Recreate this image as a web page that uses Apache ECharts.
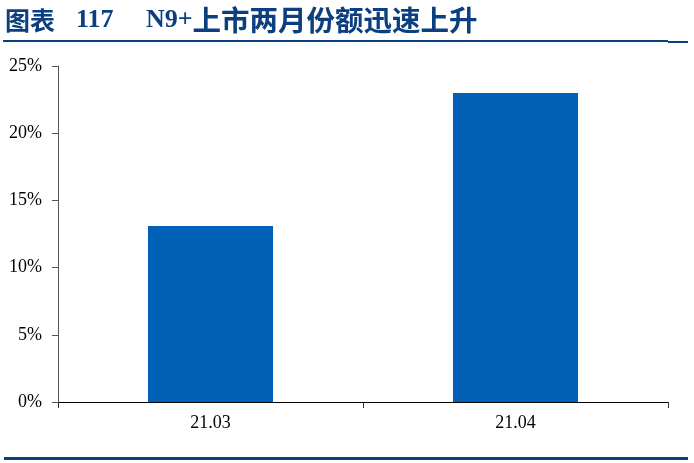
<!DOCTYPE html>
<html>
<head>
<meta charset="utf-8">
<script src="https://cdn.jsdelivr.net/npm/echarts@6/dist/echarts.min.js"></script>
<style>
    html, body { margin: 0; padding: 0; background: #fff; }
    #chart { width: 694px; height: 463px; }
</style>
</head>
<body>
<div id="chart"></div>
<script>
// 数据
const titleLabel = '图表';
const titleNo = '117';
const titleLatin = 'N9+';
const titleCjk = '上市两月份额迅速上升';
const months = ['21.03', '21.04'];
const shares = [0.131, 0.230];

const navy = '#0B3F80';
const serif = '"Liberation Serif", "Times New Roman", serif';
const cjk = '"Noto Sans CJK SC", sans-serif';

const chart = echarts.init(document.getElementById('chart'));

const option = {
    animation: false,
    backgroundColor: '#fff',
    grid: {
        left: 58,
        right: 26,
        top: 66,
        bottom: 61
    },
    graphic: [
        {
            type: 'text',
            x: 5,
            y: 20,
            style: {
                text: titleLabel,
                fill: navy,
                font: 'bold 25px ' + cjk,
                verticalAlign: 'middle'
            }
        },
        {
            type: 'text',
            x: 76,
            y: 20,
            style: {
                text: titleNo,
                fill: navy,
                font: 'bold 26px ' + serif,
                verticalAlign: 'middle'
            }
        },
        {
            type: 'text',
            x: 146,
            y: 20,
            style: {
                text: '{a|' + titleLatin + '}{b|' + titleCjk + '}',
                verticalAlign: 'middle',
                rich: {
                    a: { fill: navy, font: 'bold 26px ' + serif },
                    b: { fill: navy, font: 'bold 28.5px ' + cjk }
                }
            }
        },
        {
            type: 'rect',
            shape: { x: 3, y: 40, width: 665, height: 2 },
            style: { fill: navy }
        },
        {
            type: 'rect',
            shape: { x: 668, y: 41, width: 20, height: 2 },
            style: { fill: navy }
        },
        {
            type: 'rect',
            shape: { x: 4, y: 457, width: 684, height: 3 },
            style: { fill: navy }
        }
    ],
    xAxis: {
        type: 'category',
        data: months,
        axisLine: { lineStyle: { color: '#000', width: 1 } },
        axisTick: { show: true, length: 6, lineStyle: { color: '#333' } },
        axisLabel: {
            color: '#000',
            fontFamily: serif,
            fontSize: 18,
            margin: 12
        }
    },
    yAxis: {
        type: 'value',
        min: 0,
        max: 0.25,
        interval: 0.05,
        axisLine: { show: true, lineStyle: { color: '#555' } },
        axisTick: { show: true, length: 6, lineStyle: { color: '#555' } },
        splitLine: { show: false },
        axisLabel: {
            color: '#000',
            fontFamily: serif,
            fontSize: 18,
            margin: 16,
            formatter: function (v) {
                return Math.round(v * 100) + '%';
            }
        }
    },
    series: [
        {
            type: 'bar',
            data: shares,
            barWidth: '41%',
            itemStyle: { color: '#0061B7' }
        }
    ]
};

chart.setOption(option);
</script>
</body>
</html>
